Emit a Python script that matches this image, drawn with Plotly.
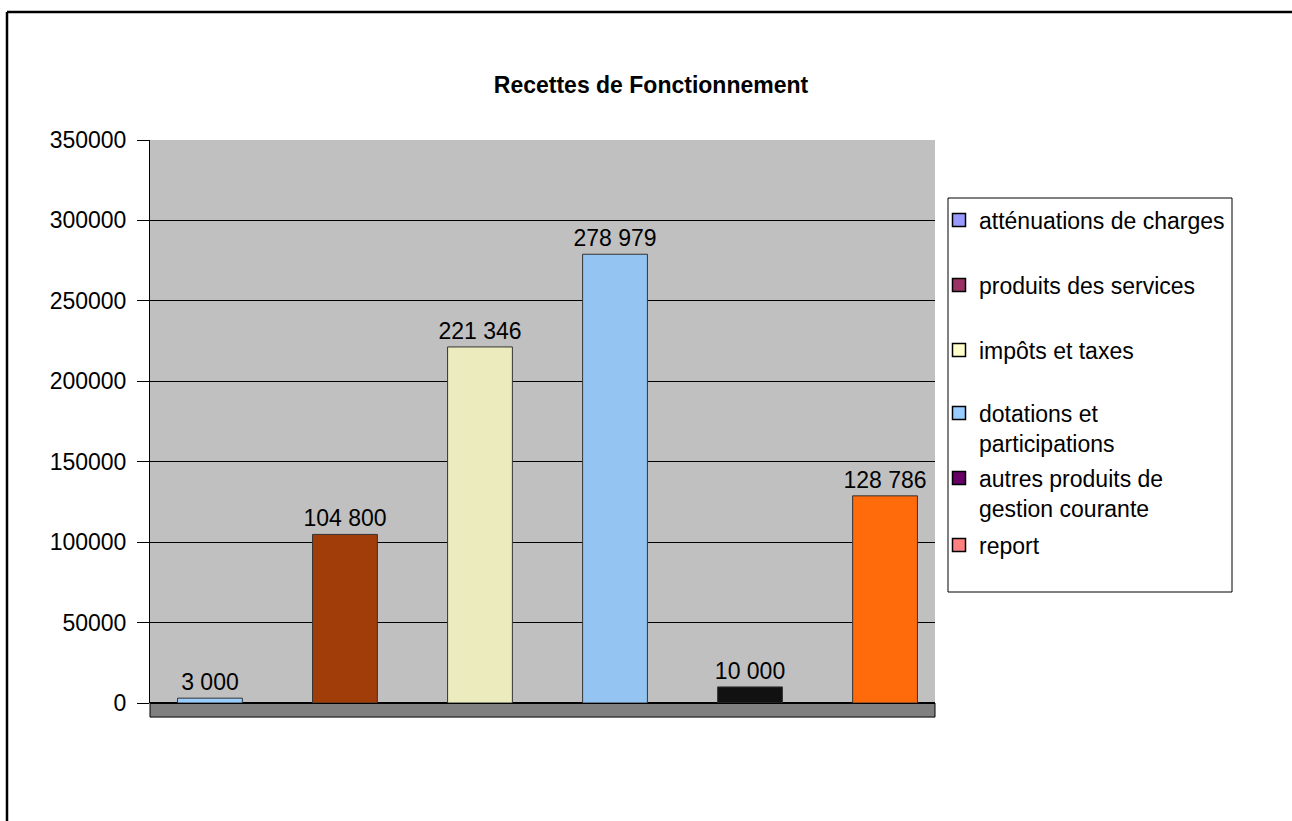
import plotly.graph_objects as go

categories = ["atténuations de charges", "produits des services", "impôts et taxes",
              "dotations et participations", "autres produits de gestion courante", "report"]
legend_labels = ["atténuations de charges", "produits des services", "impôts et taxes",
                 "dotations et<br>participations", "autres produits de<br>gestion courante", "report"]
values = [3000, 104800, 221346, 278979, 10000, 128786]
bar_colors = ["#99ccff", "#a13d08", "#ecebbd", "#94c4f2", "#111111", "#ff6a0a"]
legend_colors = ["#9999ff", "#993366", "#ffffcc", "#99ccff", "#660066", "#ff8080"]

FONT = "Liberation Sans, Arial, sans-serif"
FS = 23

W, H = 1292, 821
L, R, T, B = 150, 1292 - 935, 140, 821 - 703
pw, ph = W - L - R, H - T - B


def px(x):
    return (x - L) / pw


def py(y):
    return (H - B - y) / ph


# legend item vertical centres (pixels)
legend_centres = [220, 285, 350, 428, 493, 545]

fig = go.Figure()
fig.add_trace(go.Bar(
    x=list(range(len(values))), y=values,
    hovertext=categories,
    marker=dict(color=bar_colors, line=dict(color="#333333", width=1)),
    width=0.48,
    texttemplate="%{y:,.0f}", textposition="outside", constraintext="none",
    textfont=dict(family=FONT, size=FS, color="black"),
    cliponaxis=False, showlegend=False,
))
legends = {}
for i, (lab, col) in enumerate(zip(legend_labels, legend_colors)):
    key = "legend" if i == 0 else f"legend{i + 1}"
    fig.add_trace(go.Scatter(
        x=[None], y=[None], mode="markers", name=lab,
        marker=dict(symbol="square", size=13, color=col, line=dict(color="black", width=1.5)),
        legend=key,
    ))
    legends[key] = dict(x=px(939), y=py(legend_centres[i]), xanchor="left", yanchor="middle",
                        borderwidth=0, bgcolor="rgba(0,0,0,0)",
                        font=dict(family=FONT, size=FS, color="black"),
                        valign="top", itemsizing="trace")

fig.update_layout(
    width=W, height=H,
    margin=dict(l=L, r=R, t=T, b=B),
    paper_bgcolor="white", plot_bgcolor="#c0c0c0",
    separators=", ",
    font=dict(family=FONT, size=FS, color="black"),
    title=dict(text="<b>Recettes de Fonctionnement</b>", x=651 / W, xanchor="center",
               y=1 - 85 / H, yanchor="middle", xref="container", yref="container",
               font=dict(family=FONT, size=FS, color="black")),
    barmode="overlay",
    showlegend=True,
    xaxis=dict(range=[-0.444, 5.37], showticklabels=False, showgrid=False, zeroline=False,
               showline=False, ticks=""),
    yaxis=dict(range=[0, 350000], dtick=50000, tickformat="d", ticks="outside", ticklen=12,
               tickcolor="black", showline=True, linecolor="black", linewidth=1,
               gridcolor="black", gridwidth=1, zeroline=True, zerolinecolor="black",
               ticklabelstandoff=6,
               tickfont=dict(family=FONT, size=FS, color="black")),
    shapes=[
        dict(type="rect", xref="paper", yref="paper", x0=0, x1=1, y0=-0.025, y1=0,
             fillcolor="#808080", line=dict(color="black", width=1), layer="below"),
        dict(type="rect", xref="paper", yref="paper", x0=px(948), x1=px(1232), y0=py(592), y1=py(198),
             fillcolor="white", line=dict(color="black", width=1), layer="below"),
        dict(type="line", xref="paper", yref="paper", x0=px(7), x1=px(1292), y0=py(12), y1=py(12),
             line=dict(color="black", width=2.5)),
        dict(type="line", xref="paper", yref="paper", x0=px(7), x1=px(7), y0=py(12), y1=py(821),
             line=dict(color="black", width=2.5)),
    ],
    **legends,
)

fig.write_html("out.html", config={"displayModeBar": False},
               post_script="document.body.style.margin='0';document.body.style.overflow='hidden';")
